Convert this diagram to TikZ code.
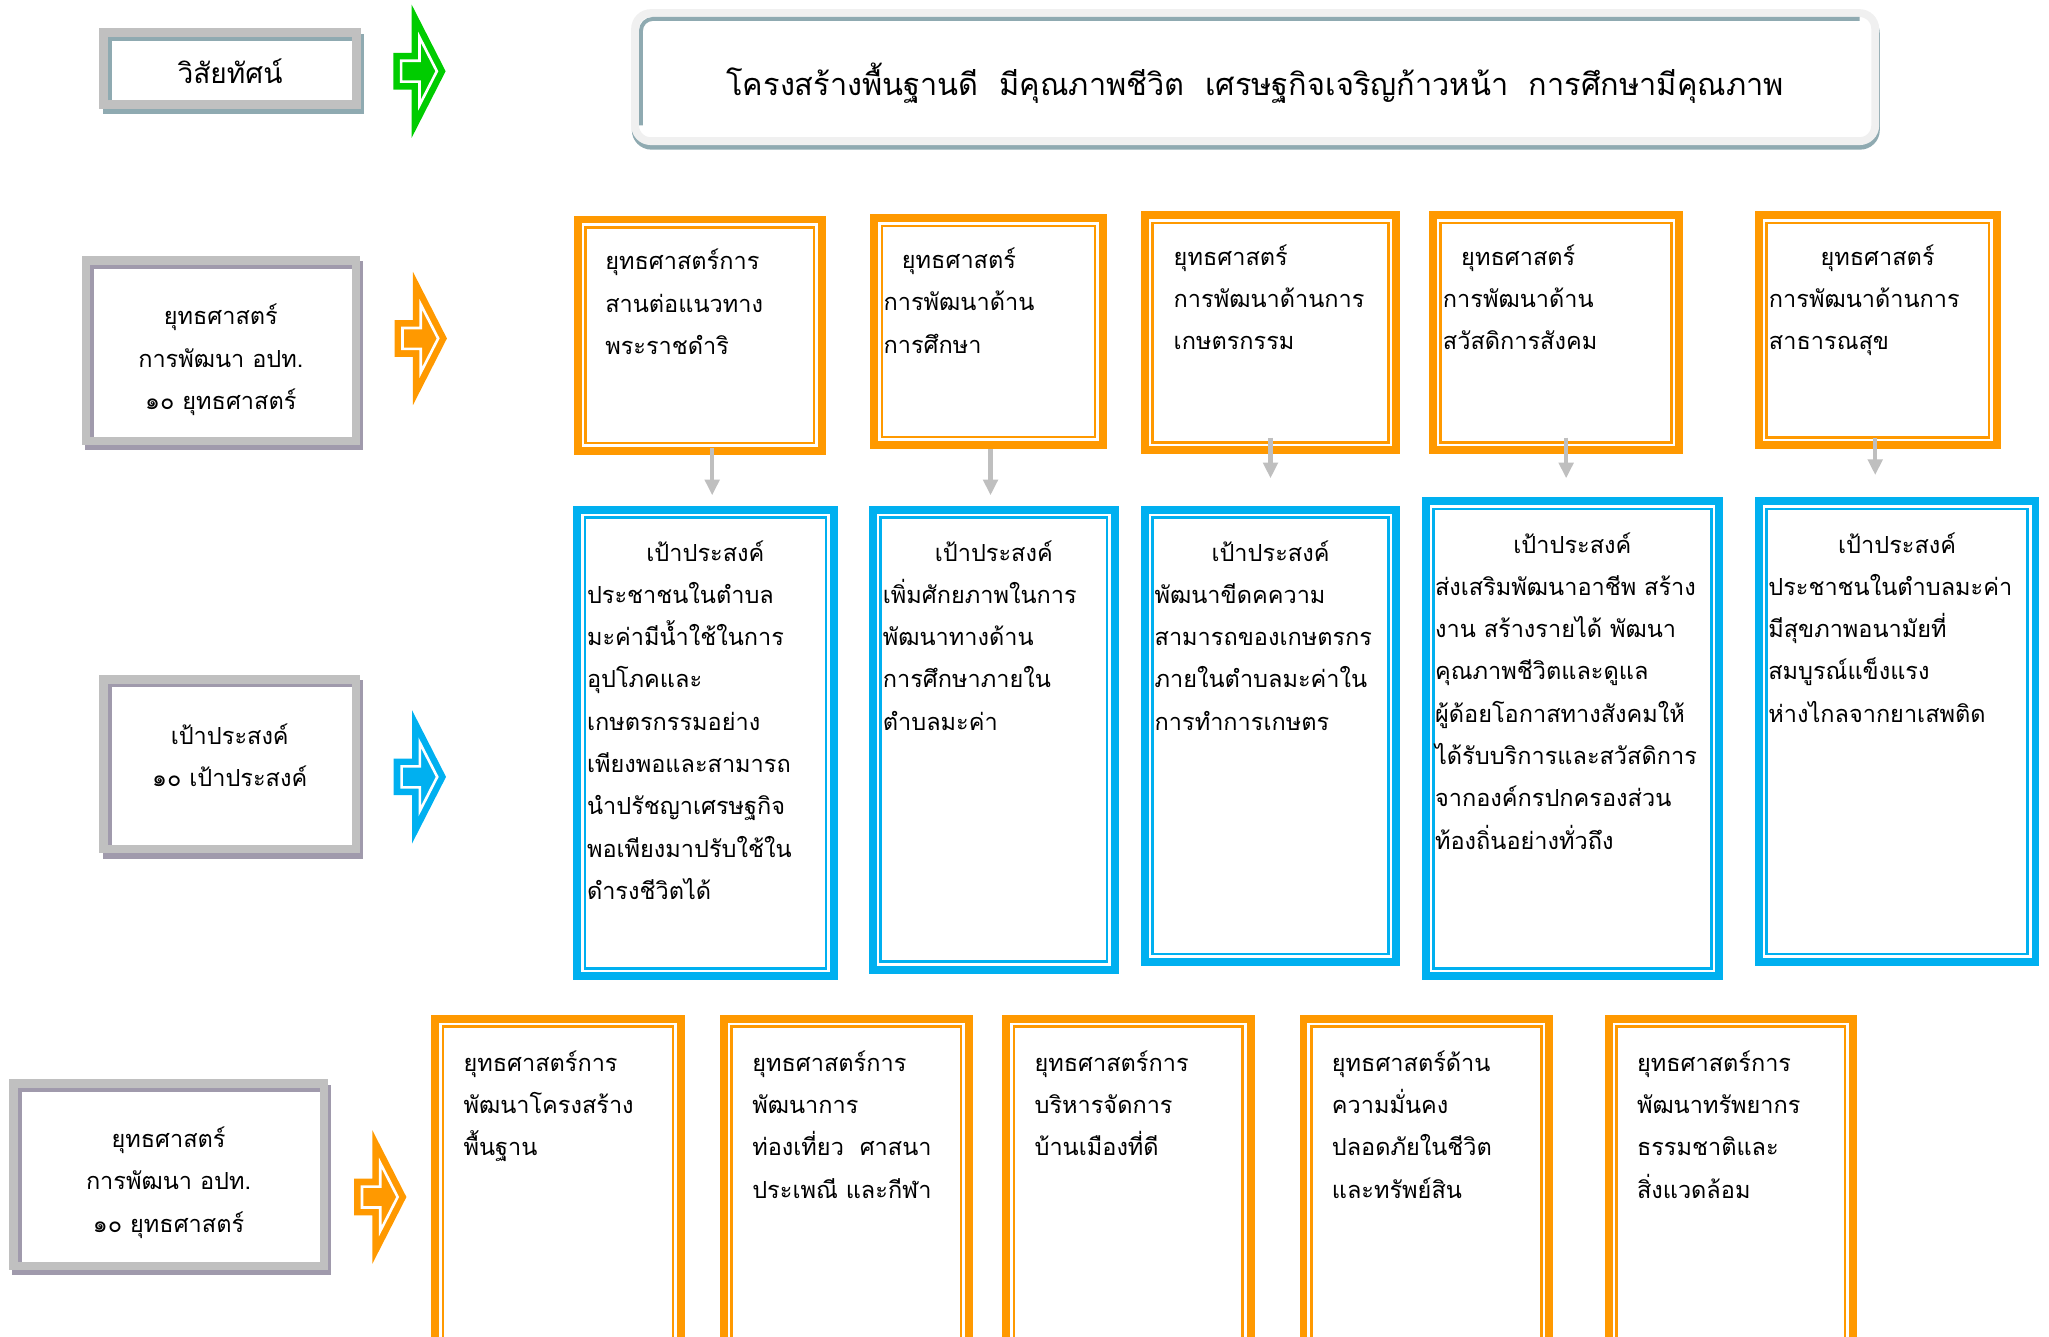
\documentclass[tikz,border=0pt]{standalone}
\usepackage{fontspec}
\setmainfont[Script=Thai]{Loma}
\usetikzlibrary{arrows.meta, shadows}
\definecolor{stratOrange}{RGB}{255,153,0}
\definecolor{goalBlue}{RGB}{0,176,240}
\definecolor{visGreen}{RGB}{0,204,0}
\definecolor{frameGrey}{RGB}{192,192,192}
\definecolor{labShade}{RGB}{160,154,172}
\definecolor{visShade}{RGB}{143,170,177}
\definecolor{barLight}{RGB}{240,240,240}
\definecolor{linkGrey}{RGB}{191,191,191}

\tikzset{
    boxfont/.style={font=\fontsize{18}{32.4}\selectfont},
    labelbox/.style={draw=frameGrey, line width=6.5pt, fill=white, outer sep=0pt,
        drop shadow={shadow xshift=2.5pt, shadow yshift=-4pt, fill=#1, draw=#1, line width=6.5pt, opacity=1}},
    labeltext/.style={boxfont, align=center, inner sep=0pt},
    visionbar/.style={draw=barLight, line width=6pt, fill=white, rounded corners=12pt, outer sep=0pt,
        drop shadow={shadow xshift=0.5pt, shadow yshift=-3.5pt, fill=visShade, draw=visShade, line width=6pt, opacity=1}},
    stratbox/.style={draw=#1, line width=6pt, fill=white, anchor=north west},
    boxtext/.style={boxfont, anchor=base west, inner sep=0pt},
    titletext/.style={boxfont, anchor=base, inner sep=0pt},
    linkarrow/.style={draw=linkGrey, line width=3.3pt, -{Triangle[width=11pt, length=12pt]}},
    pics/blockarrow/.style={code={
        \fill[#1] (-40,-14) -- (-26,-14) -- (-26,-51) -- (0,0) -- (-26,51) -- (-26,14) -- (-40,14) -- cycle;
        \draw[white, line width=2pt] (-34,-8) -- (-20,-8) -- (-20,-26) -- (-6.7,0) -- (-20,26) -- (-20,8) -- (-34,8) -- cycle;
    }}
}

\begin{document}
\begin{tikzpicture}[x=1pt, y=-1pt]
    \useasboundingbox (0,0) rectangle (1568,1023);
    \clip (0,0) rectangle (1568,1023);

    % left column
    \node[labelbox=visShade, minimum width=193.5pt, minimum height=54.8pt] (vis) at (176,52.4) {};
    \node[labelbox=labShade, minimum width=206.5pt, minimum height=138pt] (lab1) at (169,268.3) {};
    \node[labelbox=labShade, minimum width=193pt, minimum height=130pt] (lab2) at (175.8,584.8) {};
    \node[labelbox=labShade, minimum width=237.5pt, minimum height=139.5pt] (lab3) at (129,899) {};
    \foreach \n/\c in {vis/visShade, lab1/labShade, lab2/labShade, lab3/labShade}
        \draw[\c, line width=3pt] ([shift={(4.75,-3.25)}]\n.south west) -- ([shift={(4.75,4.75)}]\n.north west) -- ([shift={(-3.25,4.75)}]\n.north east);
    \node[labeltext, font=\fontsize{21.5}{26}\selectfont] (vist) at ([shift={(0,2)}]vis.center) {วิสัยทัศน์};
    \node[labeltext] (lab1t) at ([shift={(0,7)}]lab1.center) {ยุทธศาสตร์\\การพัฒนา อปท.\\๑๐ ยุทธศาสตร์};
    \node[labeltext] (lab2t) at ([shift={(0,-7)}]lab2.center) {เป้าประสงค์\\๑๐ เป้าประสงค์};
    \node[labeltext] (lab3t) at ([shift={(0,6)}]lab3.center) {ยุทธศาสตร์\\การพัฒนา อปท.\\๑๐ ยุทธศาสตร์};

    \pic at (341,54.5) {blockarrow=visGreen};
    \pic at (342,259) {blockarrow=stratOrange};
    \pic at (341.3,594.5) {blockarrow=goalBlue};
    \pic at (311,916) {blockarrow=stratOrange};

    % vision
    \node[visionbar, minimum width=949pt, minimum height=98pt] (bar) at (960.5,59) {};
    \draw[visShade, line width=3pt, rounded corners=9pt] ([shift={(4.5,-12)}]bar.south west) -- ([shift={(4.5,4.5)}]bar.north west) -- ([shift={(-12,4.5)}]bar.north east);
    \node[font=\fontsize{23.5}{28}\selectfont, inner sep=0pt] (bart) at ([shift={(0,5)}]bar.center) {โครงสร้างพื้นฐานดี\ \ มีคุณภาพชีวิต\ \ เศรษฐกิจเจริญก้าวหน้า\ \ การศึกษามีคุณภาพ};

    % strategies
    \node[stratbox=stratOrange, minimum width=187pt, minimum height=177pt] (s1) at (439,165) {};
    \node[stratbox=stratOrange, minimum width=175pt, minimum height=173.5pt] (s2) at (666,164) {};
    \node[stratbox=stratOrange, minimum width=192.5pt, minimum height=180pt] (s3) at (873,161.5) {};
    \node[stratbox=stratOrange, minimum width=188.5pt, minimum height=180pt] (s4) at (1093.5,161.5) {};
    \node[stratbox=stratOrange, minimum width=182pt, minimum height=176.2pt] (s5) at (1343,161.5) {};

    % goals
    \node[stratbox=goalBlue, minimum width=196.4pt, minimum height=357pt] (g1) at (438.6,387) {};
    \node[stratbox=goalBlue, minimum width=185pt, minimum height=352pt] (g2) at (665,387) {};
    \node[stratbox=goalBlue, minimum width=192.5pt, minimum height=346pt] (g3) at (873,387) {};
    \node[stratbox=goalBlue, minimum width=224.5pt, minimum height=363.5pt] (g4) at (1088,380.5) {};
    \node[stratbox=goalBlue, minimum width=211.6pt, minimum height=352.5pt] (g5) at (1343,380.5) {};

    % bottom strategies
    \node[stratbox=stratOrange, minimum width=188pt, minimum height=300pt] (b1) at (330,776.7) {};
    \node[stratbox=stratOrange, minimum width=187.5pt, minimum height=300pt] (b2) at (551,776.7) {};
    \node[stratbox=stratOrange, minimum width=187pt, minimum height=300pt] (b3) at (767,776.7) {};
    \node[stratbox=stratOrange, minimum width=188pt, minimum height=300pt] (b4) at (994.5,776.7) {};
    \node[stratbox=stratOrange, minimum width=187pt, minimum height=300pt] (b5) at (1228,776.7) {};

    \foreach \n in {s1,s2,s3,s4,s5,b1,b2,b3,b4,b5}
        \draw[stratOrange, line width=2pt] ([shift={(9,9)}]\n.north west) rectangle ([shift={(-9,-9)}]\n.south east);
    \foreach \n in {g1,g2,g3,g4,g5}
        \draw[goalBlue, line width=2pt] ([shift={(9,9)}]\n.north west) rectangle ([shift={(-9,-9)}]\n.south east);

    \foreach \s/\g/\dx/\a/\b in {s1/g1/9.5/-5/8, s2/g2/1.5/0/8, s3/g3/0/-12.5/21, s4/g4/7.75/-12.5/14.5, s5/g5/-2/-8.7/17}
        \draw[linkarrow, shorten <=\a pt, shorten >=\b pt] ([xshift=\dx pt]\s.south) -- ([xshift=\dx pt]\s.south |- \g.north);

    \node[boxtext] (s1t) at ([shift={(24,41.5)}]s1.north west) {\begin{tabular}[t]{@{}l@{}}ยุทธศาสตร์การ\\สานต่อแนวทาง\\พระราชดำริ\end{tabular}};
    \node[boxtext] (s2t) at ([shift={(10,41.5)}]s2.north west) {\begin{tabular}[t]{@{}l@{}}\hspace*{14pt}ยุทธศาสตร์\\การพัฒนาด้าน\\การศึกษา\end{tabular}};
    \node[boxtext] (s3t) at ([shift={(25,41.5)}]s3.north west) {\begin{tabular}[t]{@{}l@{}}ยุทธศาสตร์\\การพัฒนาด้านการ\\เกษตรกรรม\end{tabular}};
    \node[boxtext] (s4t) at ([shift={(10.5,41.5)}]s4.north west) {\begin{tabular}[t]{@{}l@{}}\hspace*{14pt}ยุทธศาสตร์\\การพัฒนาด้าน\\สวัสดิการสังคม\end{tabular}};
    \node[boxtext] (s5t) at ([shift={(10.5,41.5)}]s5.north west) {\begin{tabular}[t]{@{}l@{}}\hspace*{39.5pt}ยุทธศาสตร์\\การพัฒนาด้านการ\\สาธารณสุข\end{tabular}};

    \foreach \g in {g1,g2,g3,g4,g5}
        \node[titletext] (\g h) at ([shift={(0,43)}]\g.north) {เป้าประสงค์};
    \node[boxtext] (g1t) at ([shift={(10.4,74.6)}]g1.north west) {\begin{tabular}[t]{@{}l@{}}ประชาชนในตำบล\\มะค่ามีน้ำใช้ในการ\\อุปโภคและ\\เกษตรกรรมอย่าง\\เพียงพอและสามารถ\\นำปรัชญาเศรษฐกิจ\\พอเพียงมาปรับใช้ใน\\ดำรงชีวิตได้\end{tabular}};
    \node[boxtext] (g2t) at ([shift={(10.4,74.6)}]g2.north west) {\begin{tabular}[t]{@{}l@{}}เพิ่มศักยภาพในการ\\พัฒนาทางด้าน\\การศึกษาภายใน\\ตำบลมะค่า\end{tabular}};
    \node[boxtext] (g3t) at ([shift={(10.4,74.6)}]g3.north west) {\begin{tabular}[t]{@{}l@{}}พัฒนาขีดคความ\\สามารถของเกษตรกร\\ภายในตำบลมะค่าใน\\การทำการเกษตร\end{tabular}};
    \node[boxtext] (g4t) at ([shift={(10,75)}]g4.north west) {\begin{tabular}[t]{@{}l@{}}ส่งเสริมพัฒนาอาชีพ สร้าง\\งาน สร้างรายได้ พัฒนา\\คุณภาพชีวิตและดูแล\\ผู้ด้อยโอกาสทางสังคมให้\\ได้รับบริการและสวัสดิการ\\จากองค์กรปกครองส่วน\\ท้องถิ่นอย่างทั่วถึง\end{tabular}};
    \node[boxtext] (g5t) at ([shift={(10,75)}]g5.north west) {\begin{tabular}[t]{@{}l@{}}ประชาชนในตำบลมะค่า\\มีสุขภาพอนามัยที่\\สมบูรณ์แข็งแรง\\ห่างไกลจากยาเสพติด\end{tabular}};

    \node[boxtext] (b1t) at ([shift={(24.5,43)}]b1.north west) {\begin{tabular}[t]{@{}l@{}}ยุทธศาสตร์การ\\พัฒนาโครงสร้าง\\พื้นฐาน\end{tabular}};
    \node[boxtext] (b2t) at ([shift={(24.5,43)}]b2.north west) {\begin{tabular}[t]{@{}l@{}}ยุทธศาสตร์การ\\พัฒนาการ\\ท่องเที่ยว\ \ ศาสนา\\ประเพณี และกีฬา\end{tabular}};
    \node[boxtext] (b3t) at ([shift={(24.5,43)}]b3.north west) {\begin{tabular}[t]{@{}l@{}}ยุทธศาสตร์การ\\บริหารจัดการ\\บ้านเมืองที่ดี\end{tabular}};
    \node[boxtext] (b4t) at ([shift={(24.5,43)}]b4.north west) {\begin{tabular}[t]{@{}l@{}}ยุทธศาสตร์ด้าน\\ความมั่นคง\\ปลอดภัยในชีวิต\\และทรัพย์สิน\end{tabular}};
    \node[boxtext] (b5t) at ([shift={(24.5,43)}]b5.north west) {\begin{tabular}[t]{@{}l@{}}ยุทธศาสตร์การ\\พัฒนาทรัพยากร\\ธรรมชาติและ\\สิ่งแวดล้อม\end{tabular}};
\end{tikzpicture}
\end{document}
